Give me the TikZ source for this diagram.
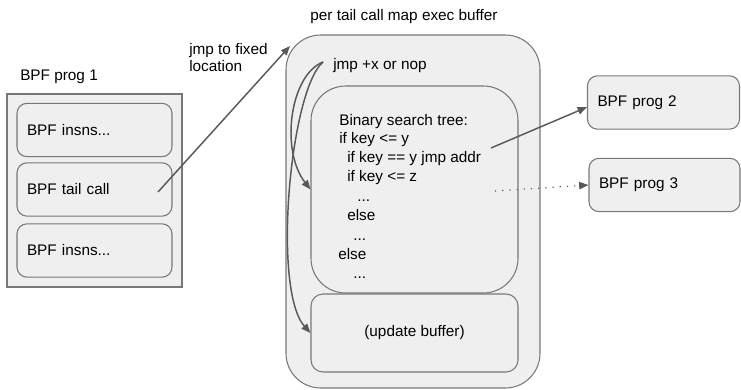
\documentclass[tikz,border=0pt]{standalone}
\usepackage{fontspec}
\setmainfont{Liberation Sans}
\usetikzlibrary{arrows.meta,positioning}
\definecolor{boxgray}{RGB}{239,239,239}
\definecolor{edgegray}{RGB}{120,120,120}
\definecolor{arrowgray}{RGB}{89,89,89}
\newcommand{\moredots}{...}

\begin{document}
\begin{tikzpicture}[x=0.75pt, y=-0.75pt,
    every node/.style={font=\fontsize{11.5}{13.1}\selectfont},
    frame/.style={draw=edgegray, fill=boxgray, line width=0.8pt},
    insn/.style={frame, rounded corners=7.5pt, minimum width=116.25pt, minimum height=40pt, text width=101.25pt, inner xsep=7.5pt, align=left},
    target/.style={insn, minimum width=114pt, text width=99pt},
    txt/.style={inner sep=0pt, anchor=base west},
    jump/.style={draw=arrowgray, line width=1.1pt, -{Triangle[length=7pt,width=5.5pt]}}]
  \useasboundingbox (0,0) rectangle (741,389);

  % BPF prog 1 (left)
  \node[txt] (p1title) at (20,80) {BPF prog 1};
  \node[frame, minimum width=131.25pt, minimum height=144.75pt] (p1) at (94.5,190.5) {};
  \node[insn] (ins1) at (94.5,130) {BPF insns...};
  \node[insn] (tail) at (94.5,189.5) {BPF tail call};
  \node[insn] (ins2) at (94.5,250.5) {BPF insns...};

  % exec buffer (middle)
  \node[txt, anchor=base] (buftitle) at (404,21) {per tail call map exec buffer};
  \node[frame, rounded corners=26pt, minimum width=190.5pt, minimum height=264.75pt] (buf) at (413,211.5) {};
  \node[txt] (jmp) at (333,69) {jmp +x or nop};
  \node[frame, rounded corners=26pt, minimum width=155.25pt, minimum height=155.25pt] (bst) at (414.5,189.5) {};
  \node[frame, rounded corners=9pt, minimum width=155.25pt, minimum height=58.5pt] (upd) at (414.5,333) {(update buffer)};
  \foreach \x/\y/\t [count=\i] in {339/125/Binary search tree:, 339/143.5/if key <= y,
      347/162/if key == y jmp addr, 347/181/if key <= z, 357/201/\moredots,
      347/220/else, 353/240/\moredots, 338/259/else, 353/278/\moredots}
    \node[txt] (bst\i) at (\x,\y) {\t};

  % targets (right)
  \node[target] (prog2) at (663.5,102.5) {BPF prog 2};
  \node[target, minimum width=113.25pt, text width=98.25pt] (prog3) at (664.5,185) {BPF prog 3};

  % jumps
  \coordinate (tailout) at (158,192);
  \coordinate (fixedloc) at (290,46);
  \draw[jump] (tailout) -- (fixedloc);
  \node[inner sep=0pt, anchor=north west, align=left] (jmplbl) at (189,43) {jmp to fixed\\location};
  \coordinate (jmpfrom) at (323,62);
  \draw[jump] (jmpfrom) .. controls (290,75) and (280,150) .. (bst.west);
  \draw[jump] (jmpfrom) .. controls (290,90) and (272,290) .. (upd.west);
  \coordinate (bstout) at (491,148);
  \draw[jump] (bstout) -- ([yshift=-3.5pt]prog2.west);
  \coordinate (bstdots) at (495,191);
  \draw[jump, line width=0.9pt, dash pattern=on 0.9pt off 4.5pt] (bstdots) -- (prog3.west);
\end{tikzpicture}
\end{document}
